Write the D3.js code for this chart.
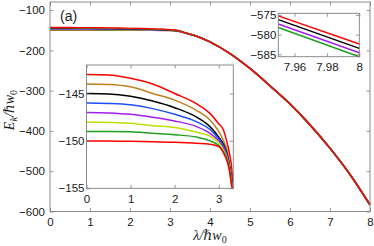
<!DOCTYPE html>
<html>
<head>
<meta charset="utf-8">
<script src="https://cdn.jsdelivr.net/npm/d3@7"></script>
<style>
body{margin:0;background:#fff}
svg text{font-family:"Liberation Sans",Arial,sans-serif;fill:#1a1a1a}
.lab{font-family:"Liberation Serif","DejaVu Serif",serif;font-style:italic}
</style>
</head>
<body>
<div id="chart"></div>
<script>
// lambda grid of the big inset (0 .. 3.32)
var lamIn = [0, 0.5, 1.0, 1.5, 2.0, 2.5, 2.8, 3.0, 3.1, 3.2, 3.25, 3.3, 3.32];
// one array per colour, top to bottom
var eRedTop = [-143.0, -143.05, -143.4, -144.0, -145.0, -146.1, -147.1, -148.2, -148.8, -150.4, -151.5, -153.2, -154.8];
var eBrown  = [-144.0, -144.05, -144.3, -145.0, -145.7, -146.8, -147.8, -149.0, -149.9, -151.2, -152.5, -154.3, -155.0];
var eBlack  = [-145.0, -145.05, -145.3, -145.8, -146.5, -147.5, -148.5, -149.6, -150.3, -151.6, -152.8, -154.3, -155.0];
var eBlue   = [-146.0, -146.05, -146.2, -146.6, -147.2, -148.0, -148.8, -149.8, -150.5, -151.7, -152.9, -154.5, -155.0];
var ePurple = [-147.0, -147.05, -147.2, -147.5, -147.9, -148.5, -149.2, -150.0, -150.7, -151.9, -153.0, -154.6, -155.0];
var eLime   = [-148.0, -148.05, -148.15, -148.4, -148.6, -149.1, -149.5, -150.2, -150.9, -152.0, -153.1, -154.7, -155.0];
var eGreen  = [-149.0, -149.0, -149.05, -149.2, -149.35, -149.6, -150.0, -150.5, -151.1, -152.1, -153.2, -154.8, -155.0];
var eRedBot = [-150.0, -150.0, -150.05, -150.1, -150.15, -150.25, -150.35, -150.6, -151.2, -152.3, -153.3, -154.9, -155.0];
var seriesNames = ["redTop","brown","black","blue","purple","lime","green","redBot"];
var seriesColors = ["#ff0000","#bf7f1f","#000000","#1f4fff","#a020f0","#bfdf00","#1fa01f","#ff0000"];

// shared descent of the main curve after the inset range
var lamTail = [3.5, 3.75, 4, 4.5, 5, 5.5, 6, 6.5, 7, 7.5, 8];
var eTail = [-160, -168, -179, -208, -245, -288, -333, -385, -443, -508, -583.5];

// small inset, near lambda = 8
var lamZoom = [7.95, 8];
var zRed = [-575.25, -582.4];
var zBlack = [-576.2, -583.5];
var zPurple = [-577.3, -584.6];
var zGreen = [-578.2, -585.6];
var zoomColors = ["#1fa01f","#a020f0","#000000","#ff0000"];

// tick values
var xTicksMain = [0,1,2,3,4,5,6,7,8];
var yTicksMain = [-600,-500,-400,-300,-200,-100];
var xTicksIn = [0,1,2,3];
var yTicksIn = [-155,-150,-145];
var xTicksZoom = [7.96,7.98,8];
var yTicksZoom = [-585,-580,-575];

var W = 374, H = 246;
var svg = d3.select("#chart").append("svg").attr("width",W).attr("height",H);

var inSeries = [eRedTop,eBrown,eBlack,eBlue,ePurple,eLime,eGreen,eRedBot];

function frame(g, x, y, xt, yt, xfmt, yfmt, padX, padY){
  var x0 = x.range()[0], x1 = x.range()[1], y0 = y.range()[0], y1 = y.range()[1];
  g.append("g").attr("transform","translate(0,"+y0+")")
    .call(d3.axisBottom(x).tickValues(xt).tickFormat(xfmt).tickSizeInner(-3.5).tickSizeOuter(0).tickPadding(padX));
  g.append("g").attr("transform","translate(0,"+y1+")")
    .call(d3.axisTop(x).tickValues(xt).tickFormat("").tickSizeInner(-3.5).tickSizeOuter(0));
  g.append("g").attr("transform","translate("+x0+",0)")
    .call(d3.axisLeft(y).tickValues(yt).tickFormat(yfmt).tickSizeInner(-3.5).tickSizeOuter(0).tickPadding(padY));
  g.append("g").attr("transform","translate("+x1+",0)")
    .call(d3.axisRight(y).tickValues(yt).tickFormat("").tickSizeInner(-3.5).tickSizeOuter(0));
  g.selectAll(".domain").remove();
  g.selectAll(".tick line").attr("stroke","#7f7f7f").attr("stroke-width",0.8);
  g.selectAll(".tick text").attr("font-size","11.5px").attr("fill","#1a1a1a")
    .style("font-family","'Liberation Sans',Arial,sans-serif");
  g.append("rect").attr("x",x0).attr("y",y1).attr("width",x1-x0).attr("height",y0-y1)
    .attr("fill","none").attr("stroke","#7f7f7f").attr("stroke-width",0.9);
}

// ---- main axes
var x = d3.scaleLinear().domain([0,8]).range([50,370]);
var y = d3.scaleLinear().domain([-600,-80]).range([211.5,2]);
var main = svg.append("g");
main.append("rect").attr("x",50).attr("y",2).attr("width",320).attr("height",209.5).attr("fill","#fff");

var lineMain = d3.line().x(function(d){return x(d[0]);}).y(function(d){return y(d[1]);}).curve(d3.curveMonotoneX);
for (var s = inSeries.length-1; s >= 0; s--){
  var pts = lamIn.map(function(l,i){return [l, inSeries[s][i]];});
  lamTail.forEach(function(l,i){pts.push([l, eTail[i]]);});
  main.append("path").datum(pts)
    .attr("d", lineMain).attr("fill","none")
    .attr("stroke", seriesColors[s]).attr("stroke-width", s==0 ? 1.1 : 1.6)
    .attr("stroke-opacity", s==0 ? 1 : 0.8);
}
frame(main, x, y, xTicksMain, yTicksMain, d3.format("d"), d3.format("d"), 6, 5);

main.append("text").attr("x",60).attr("y",21).attr("font-size","14px").text("(a)");

// axis labels
var xl = svg.append("text").attr("class","lab").attr("x",210).attr("y",239.5)
  .attr("text-anchor","middle").attr("font-size","14px");
xl.append("tspan").text("λ/ℏw");
xl.append("tspan").attr("dy",3).attr("font-size","10px").attr("font-style","normal").text("0");

var yl = svg.append("text").attr("class","lab")
  .attr("transform","translate(14,110) rotate(-90)")
  .attr("text-anchor","middle").attr("font-size","14px");
yl.append("tspan").text("E");
yl.append("tspan").attr("dy",3).attr("font-size","10px").text("k");
yl.append("tspan").attr("dy",-3).text("/ℏw");
yl.append("tspan").attr("dy",3).attr("font-size","10px").attr("font-style","normal").text("0");

// ---- big inset
var xi = d3.scaleLinear().domain([0,3.33]).range([86.5,233.3]);
var yi = d3.scaleLinear().domain([-155,-142]).range([188.3,65]);
var ins = svg.append("g");
ins.append("rect").attr("x",86.5).attr("y",65).attr("width",233.3-86.5).attr("height",188.3-65).attr("fill","#fff");
ins.append("clipPath").attr("id","clipIn").append("rect")
  .attr("x",86.5).attr("y",65).attr("width",233.3-86.5).attr("height",188.3-65);
var lineIn = d3.line().x(function(d){return xi(d[0]);}).y(function(d){return yi(d[1]);}).curve(d3.curveMonotoneX);
inSeries.forEach(function(ser, s){
  ins.append("path").datum(lamIn.map(function(l,i){return [l, ser[i]];}))
    .attr("clip-path","url(#clipIn)")
    .attr("d", lineIn).attr("fill","none")
    .attr("stroke", seriesColors[s]).attr("stroke-width",1.5);
});
frame(ins, xi, yi, xTicksIn, yTicksIn, d3.format("d"), d3.format("d"), 7, 2);

// ---- small inset
var xz = d3.scaleLinear().domain([7.95,8]).range([278.3,359.3]);
var yz = d3.scaleLinear().domain([-585.6,-574.6]).range([56.7,13.3]);
var zin = svg.append("g");
zin.append("rect").attr("x",278.3).attr("y",13.3).attr("width",81).attr("height",43.4).attr("fill","#fff");
var lineZ = d3.line().x(function(d){return xz(d[0]);}).y(function(d){return yz(d[1]);});
[zGreen,zPurple,zBlack,zRed].forEach(function(ser, s){
  zin.append("path").datum(lamZoom.map(function(l,i){return [l, ser[i]];}))
    .attr("d", lineZ).attr("fill","none")
    .attr("stroke", zoomColors[s]).attr("stroke-width",1.5);
});
frame(zin, xz, yz, xTicksZoom, yTicksZoom, function(d){return d==8 ? "8" : d3.format(".2f")(d);}, d3.format("d"), 6, 2);
</script>
</body>
</html>
